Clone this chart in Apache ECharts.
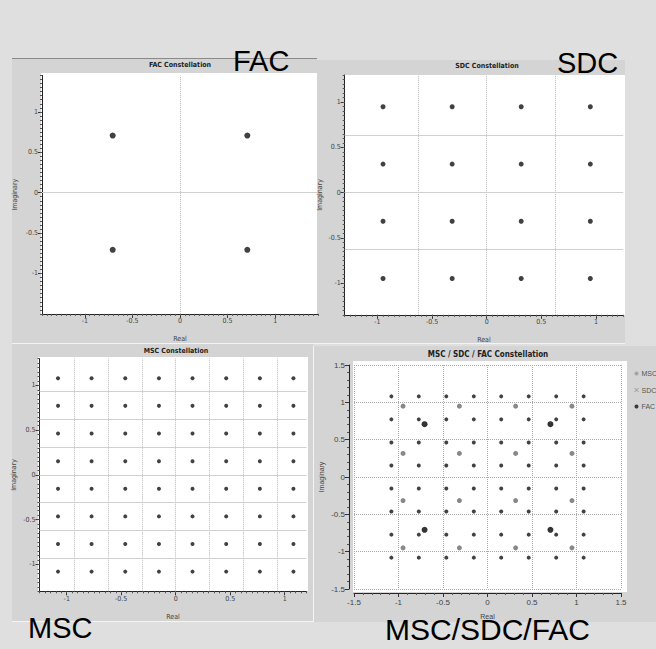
<!DOCTYPE html>
<html><head><meta charset="utf-8">
<script src="https://cdn.jsdelivr.net/npm/echarts@6/dist/echarts.min.js"></script>
<style>html,body{margin:0;padding:0;background:#dfdfdf}#c{width:656px;height:649px}</style>
</head><body><div id="c"></div>
<script>
// ---- data ----
const facLevels = [-0.707, 0.707];
const sdcLevels = [-0.949, -0.316, 0.316, 0.949];
const mscLevels = [-1.08, -0.772, -0.463, -0.154, 0.154, 0.463, 0.772, 1.08];
const facGridLines = [0];
const sdcGridLines = [-0.632, 0, 0.632];
const mscGridLines = [-0.926, -0.617, -0.309, 0, 0.309, 0.617, 0.926];
const panelTitles = ['FAC Constellation', 'SDC Constellation', 'MSC Constellation', 'MSC / SDC / FAC Constellation'];
const bigLabels = ['FAC', 'SDC', 'MSC', 'MSC/SDC/FAC'];
const legendNames = ['MSC', 'SDC', 'FAC'];
const axisNames = ['Real', 'Imaginary'];
const comboTicks = { min: -1.5, max: 1.5, step: 0.5 };

function product(levels) {
  const out = [];
  for (const q of levels) for (const i of levels) out.push([i, q]);
  return out;
}
const facPts = product(facLevels), sdcPts = product(sdcLevels), mscPts = product(mscLevels);

// ---- layout ----
const panels = [
  { left: 42, top: 75.5, width: 276, height: 238.4, x: [-1.45, 1.45], y: [-1.5, 1.45], minor: 0.05, xGap: 22, yGap: 24, data: facPts, grid: facGridLines, size: 6 },
  { left: 344.7, top: 75, width: 278.5, height: 239.8, x: [-1.3, 1.25], y: [-1.35, 1.3], minor: 0.05, xGap: 22, yGap: 21, data: sdcPts, grid: sdcGridLines, size: 5 },
  { left: 39.5, top: 358.6, width: 267, height: 232.7, x: [-1.25, 1.2], y: [-1.3, 1.3], minor: 0.05, xGap: 22, yGap: 22, data: mscPts, grid: mscGridLines, size: 4 }
];
const font = 'Liberation Sans Narrow, DejaVu Sans Condensed, Arial, sans-serif';
const lblStyle = { fontSize: 7, color: '#444', fontFamily: font };

const grids = [], xAxes = [], yAxes = [], series = [];
panels.forEach((p, i) => {
  grids.push({ left: p.left, top: p.top, width: p.width, height: p.height, containLabel: false });
  const common = (range, isX, gap) => ({
    type: 'value', gridIndex: i, min: range[0], max: range[1], splitNumber: 5,
    position: isX ? 'bottom' : 'left',
    axisLine: { show: true, onZero: false, lineStyle: { color: '#222', width: 1 } },
    axisTick: { show: true, length: 4, lineStyle: { color: '#333' } },
    axisLabel: { show: true, showMinLabel: false, showMaxLabel: false, margin: 4, ...lblStyle },
    splitLine: { show: false },
    name: isX ? axisNames[0] : axisNames[1], nameLocation: 'middle', nameGap: gap,
    nameTextStyle: { ...lblStyle }
  });
  const minor = (range, isX) => ({
    type: 'value', gridIndex: i, min: range[0], max: range[1], interval: p.minor,
    position: isX ? 'bottom' : 'left',
    axisLine: { show: false, onZero: false },
    axisTick: { show: true, length: 2, lineStyle: { color: '#555' } },
    axisLabel: { show: false }, splitLine: { show: false }
  });
  xAxes.push(common(p.x, true, p.xGap), minor(p.x, true));
  yAxes.push(common(p.y, false, p.yGap), minor(p.y, false));
  const ml = [];
  p.grid.forEach(v => ml.push({ xAxis: v, lineStyle: { type: 'dotted', color: '#b8b8b8', width: 1 } }));
  p.grid.forEach(v => ml.push({ yAxis: v, lineStyle: { type: 'solid', color: '#d0d0d0', width: 1 } }));
  series.push({
    type: 'scatter', xAxisIndex: 2 * i, yAxisIndex: 2 * i, data: p.data,
    symbol: 'circle', symbolSize: p.size, itemStyle: { color: '#111' }, animation: false, silent: true,
    markLine: { silent: true, symbol: ['none', 'none'], label: { show: false }, animation: false, data: ml }
  });
});

// combined panel
grids.push({ left: 354, top: 365, width: 267, height: 224 });
xAxes.push({
  type: 'value', gridIndex: 3, min: comboTicks.min, max: comboTicks.max, interval: comboTicks.step, position: 'bottom', offset: 4,
  axisLine: { onZero: false, lineStyle: { color: '#222' } }, axisTick: { length: 4, lineStyle: { color: '#333' } },
  minorTick: { show: true, splitNumber: 5, length: 2, lineStyle: { color: '#555' } },
  axisLabel: { fontSize: 8, color: '#444', margin: 5 }, splitLine: { show: true, lineStyle: { type: 'dotted', color: '#aaa' } },
  name: axisNames[0], nameLocation: 'middle', nameGap: 20, nameTextStyle: { fontSize: 7, color: '#444' }
});
yAxes.push({
  type: 'value', gridIndex: 3, min: comboTicks.min, max: comboTicks.max, interval: comboTicks.step, position: 'left', offset: 5,
  axisLine: { onZero: false, lineStyle: { color: '#222' } }, axisTick: { length: 4, lineStyle: { color: '#333' } },
  minorTick: { show: true, splitNumber: 5, length: 2, lineStyle: { color: '#555' } },
  axisLabel: { fontSize: 8, color: '#444', margin: 4 }, splitLine: { show: true, lineStyle: { type: 'dotted', color: '#aaa' } },
  name: axisNames[1], nameLocation: 'middle', nameGap: 24, nameTextStyle: { fontSize: 7, color: '#444' }
});
series.push(
  { name: 'MSC', type: 'scatter', xAxisIndex: 6, yAxisIndex: 6, data: mscPts, symbolSize: 4, itemStyle: { color: '#111' }, animation: false },
  { name: 'SDC', type: 'scatter', xAxisIndex: 6, yAxisIndex: 6, data: sdcPts, symbolSize: 5, itemStyle: { color: '#6a6a6a' }, animation: false },
  { name: 'FAC', type: 'scatter', xAxisIndex: 6, yAxisIndex: 6, data: facPts, symbolSize: 6, itemStyle: { color: '#000' }, animation: false }
);

// ---- graphics: panels, plot backgrounds, titles, big labels ----
const rect = (x, y, w, h, fill, z) => ({ type: 'rect', shape: { x, y, width: w, height: h }, style: { fill }, z: z || -10, silent: true });
const line = (x1, y1, x2, y2, stroke) => ({ type: 'line', shape: { x1, y1, x2, y2 }, style: { stroke, lineWidth: 1 }, z: -5, silent: true });
const graphic = [
  rect(12, 58, 305, 286, '#d4d4d4'),
  rect(317, 60, 308, 284, '#d4d4d4'),
  rect(12, 344, 301, 278, '#d4d4d4'),
  rect(313, 346, 343, 276, '#d4d4d4'),
  rect(41, 73, 276, 241, '#ffffff', -8),
  rect(345, 75, 280, 240, '#ffffff', -8),
  rect(38, 357, 270, 234, '#ffffff', -8),
  rect(353, 361, 274, 231, '#ffffff', -8),
  line(12, 58.5, 317, 58.5, '#8a8a8a'),
  line(12, 343.5, 625, 343.5, '#f4f4f4'),
  line(313.5, 346, 313.5, 622, '#f4f4f4'),
  line(12, 621.5, 313, 621.5, '#f4f4f4')
];
const titlePos = [[180, 65], [487, 66], [176, 351], [488, 354]];
panelTitles.forEach((t, i) => graphic.push({
  type: 'text', x: titlePos[i][0], y: titlePos[i][1], z: 50, silent: true,
  style: { text: t, fontSize: i === 3 ? 8 : 7, fontWeight: 'bold', fontFamily: font, fill: '#222', align: 'center', verticalAlign: 'middle' }
}));
const bigPos = [[233, 61], [557, 62.5], [28, 628], [385, 629.5]];
bigLabels.forEach((t, i) => graphic.push({
  type: 'text', x: bigPos[i][0], y: bigPos[i][1], z: 100, silent: true,
  style: { text: t, fontSize: i === 3 ? 30 : 29, fontFamily: 'Liberation Sans, Arial, sans-serif', fill: '#000', align: 'left', verticalAlign: 'middle' }
}));

const chart = echarts.init(document.getElementById('c'), null, { renderer: 'svg', width: 656, height: 649 });
chart.setOption({
  backgroundColor: '#dfdfdf',
  animation: false,
  grid: grids, xAxis: xAxes, yAxis: yAxes, series,
  legend: {
    data: [
      { name: legendNames[0], icon: 'circle', itemStyle: { color: '#999' } },
      { name: legendNames[1], icon: 'path://M0,0L10,10M10,0L0,10', itemStyle: { color: '#888', borderColor: '#888', borderWidth: 1 } },
      { name: legendNames[2], icon: 'circle', itemStyle: { color: '#111' } }
    ],
    orient: 'vertical', left: 629, top: 365, itemWidth: 4, itemHeight: 4, itemGap: 9.5,
    textStyle: { fontSize: 7, color: '#555', padding: [0, 0, 0, -2] }, selectedMode: false
  },
  graphic
});
</script></body></html>
